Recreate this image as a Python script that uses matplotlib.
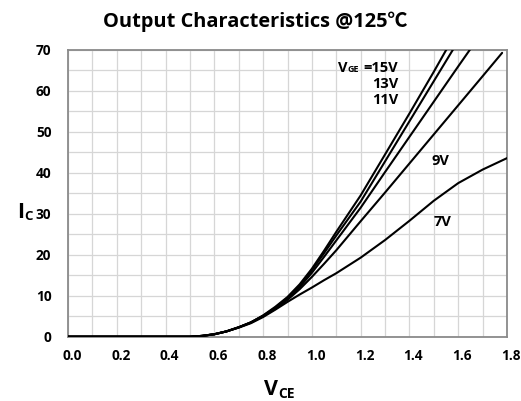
import numpy as np
import matplotlib
matplotlib.use("Agg")
import matplotlib.pyplot as plt
import matplotlib.transforms as mtransforms

plt.rcParams['font.family'] = ['Open Sans', 'Noto Sans CJK SC', 'DejaVu Sans']
plt.rcParams['font.weight'] = 'bold'

# collector current (A) vs collector-emitter voltage (V), one curve per gate voltage
vce_15 = [0.0, 0.5, 0.55, 0.6, 0.65, 0.7, 0.75, 0.8, 0.85, 0.9, 0.95, 1.0, 1.05, 1.1, 1.2, 1.3, 1.4, 1.5, 1.56]
ic_15 = [0, 0, 0.2, 0.6, 1.3, 2.3, 3.5, 5.2, 7.3, 9.7, 12.8, 16.6, 21.0, 25.6, 34.5, 44.5, 54.5, 64.7, 71.0]

vce_13 = [0.0, 0.5, 0.55, 0.6, 0.65, 0.7, 0.75, 0.8, 0.85, 0.9, 0.95, 1.0, 1.05, 1.1, 1.2, 1.3, 1.4, 1.5, 1.6]
ic_13 = [0, 0, 0.2, 0.6, 1.3, 2.3, 3.5, 5.1, 7.1, 9.5, 12.5, 16.2, 20.4, 24.7, 33.0, 42.8, 52.6, 62.4, 72.2]

vce_11 = [0.0, 0.5, 0.55, 0.6, 0.65, 0.7, 0.75, 0.8, 0.85, 0.9, 0.95, 1.0, 1.05, 1.1, 1.2, 1.3, 1.4, 1.5, 1.6, 1.7]
ic_11 = [0, 0, 0.2, 0.6, 1.3, 2.3, 3.5, 5.1, 7.0, 9.3, 12.1, 15.6, 19.5, 23.5, 31.5, 40.2, 48.8, 57.4, 66.0, 74.5]

vce_9 = [0.0, 0.5, 0.55, 0.6, 0.65, 0.7, 0.75, 0.8, 0.85, 0.9, 0.95, 1.0, 1.05, 1.1, 1.2, 1.3, 1.4, 1.5, 1.6, 1.7, 1.78]
ic_9 = [0, 0, 0.2, 0.6, 1.3, 2.3, 3.4, 5.0, 6.8, 9.0, 11.6, 14.6, 17.8, 21.1, 28.2, 35.2, 42.3, 49.4, 56.5, 63.6, 69.3]

vce_7 = [0.0, 0.5, 0.55, 0.6, 0.65, 0.7, 0.75, 0.8, 0.85, 0.9, 0.95, 1.0, 1.05, 1.1, 1.2, 1.3, 1.4, 1.5, 1.6, 1.7, 1.8]
ic_7 = [0, 0, 0.2, 0.6, 1.3, 2.2, 3.3, 4.8, 6.6, 8.5, 10.3, 12.0, 13.8, 15.5, 19.3, 23.6, 28.3, 33.2, 37.5, 40.8, 43.6]

x_ticks = [0.0, 0.2, 0.4, 0.6, 0.8, 1.0, 1.2, 1.4, 1.6, 1.8]
y_ticks = [0, 10, 20, 30, 40, 50, 60, 70]

W, H = 521, 401


def px(x, y):
    # pixel position -> figure fraction
    return x / W, 1 - y / H


fig = plt.figure(figsize=(W / 100, H / 100), dpi=100)
fig.patch.set_facecolor('white')
ax = fig.add_axes([68 / W, 1 - 336.7 / H, (507 - 68) / W, (336.7 - 50) / H])

for xs, ys in [(vce_7, ic_7), (vce_9, ic_9), (vce_11, ic_11), (vce_13, ic_13), (vce_15, ic_15)]:
    ax.plot(xs, ys, color='black', lw=1.5, solid_capstyle='round', zorder=3)

ax.set_xlim(0, 1.8)
ax.set_ylim(0, 70)
ax.set_xticks(np.arange(0, 1.801, 0.1), minor=True)
ax.set_yticks(np.arange(0, 70.1, 5), minor=True)
ax.set_xticks(x_ticks)
ax.set_yticks(y_ticks)
ax.set_xticklabels(['%.1f' % v for v in x_ticks])
ax.set_yticklabels([str(v) for v in y_ticks])
ax.grid(which='both', color='#d6d6d6', lw=0.9)
ax.set_axisbelow(True)
ax.tick_params(which='both', length=0)
ax.tick_params(axis='x', pad=9, labelsize=9.8)
ax.tick_params(axis='y', pad=12, labelsize=9.8)
for lab in ax.get_xticklabels() + ax.get_yticklabels():
    lab.set_fontweight('bold')
shift = mtransforms.ScaledTranslation(4 / 100, 0, fig.dpi_scale_trans)
for lab in ax.get_xticklabels():
    lab.set_transform(lab.get_transform() + shift)
for sp in ax.spines.values():
    sp.set_color('#8a8a8a')
    sp.set_linewidth(1.3)

# title and axis labels
fig.text(*px(255, 22), 'Output Characteristics @125\u2103', ha='center', va='center',
         fontsize=14.4, fontweight='bold')
fig.text(*px(271, 395), 'V', ha='center', va='baseline', fontsize=15.5, fontweight='bold')
fig.text(*px(278.5, 397.5), 'CE', ha='left', va='baseline', fontsize=10, fontweight='bold')
fig.text(*px(21, 218), 'I', ha='center', va='baseline', fontsize=15.5, fontweight='bold')
fig.text(*px(24.5, 220), 'C', ha='left', va='baseline', fontsize=9.5, fontweight='bold')

# gate voltage labels
fig.text(*px(337.5, 72), 'V', ha='left', va='baseline', fontsize=10.5, fontweight='bold')
fig.text(*px(347.5, 72.5), 'GE', ha='left', va='baseline', fontsize=6.5, fontweight='bold')
fig.text(*px(398, 72), '=15V', ha='right', va='baseline', fontsize=10.5, fontweight='bold')
fig.text(*px(398, 87.5), '13V', ha='right', va='baseline', fontsize=10.5, fontweight='bold')
fig.text(*px(398, 103.5), '11V', ha='right', va='baseline', fontsize=10.5, fontweight='bold')
fig.text(*px(440, 164.5), '9V', ha='center', va='baseline', fontsize=10.5, fontweight='bold')
fig.text(*px(443, 226.5), '7V', ha='center', va='baseline', fontsize=10.5, fontweight='bold')

fig.savefig('out.png', dpi=100, facecolor='white')
